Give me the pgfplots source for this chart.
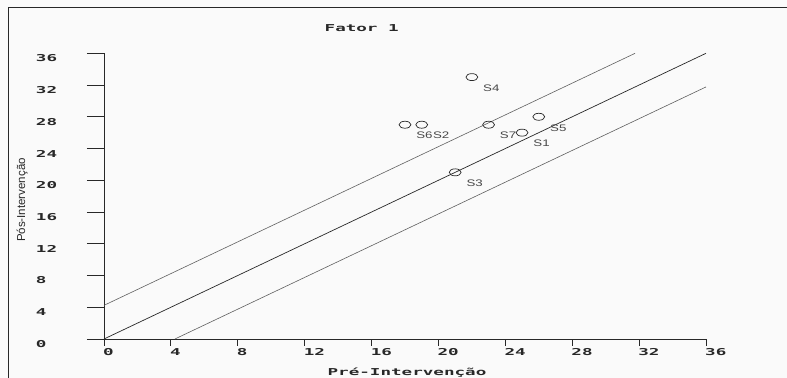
\documentclass[border=0pt]{standalone}
\usepackage{pgfplots}
\pgfplotsset{compat=1.18}
\usepackage{fontspec}
\setmainfont{Liberation Sans}
\newfontfamily\monob{DejaVu Sans Mono}[BoldFont={DejaVu Sans Mono Bold}]
\newcommand{\wide}[1]{\scalebox{1.85}[1]{\monob\bfseries\fontsize{9.5bp}{11bp}\selectfont #1}}
\definecolor{bg}{RGB}{250,250,250}
\definecolor{ink}{RGB}{40,40,40}
\begin{document}
\begin{tikzpicture}
\path[use as bounding box, fill=bg] (0bp,0bp) rectangle (787bp,378bp);
\draw[ink, line width=1bp] (8bp,0bp) -- (8bp,370bp) -- (787bp,370bp);
\node[ink] at (361.7bp,349.7bp) {\wide{Fator 1}};
\node[ink] at (407bp,5bp) {\wide{Pré-Intervenção}};
\node[ink, rotate=90] at (22bp,178bp) {\fontsize{11.5bp}{13bp}\selectfont Pós-Intervenção};
\begin{axis}[
  at={(104bp,39bp)}, anchor=origin,
  scale only axis, width=602bp, height=285.7bp,
  xmin=0, xmax=36, ymin=0, ymax=36,
  axis lines*=left,
  axis line style={ink, line width=0.9bp},
  tick align=outside,
  xtick={0,4,...,36}, ytick={0,4,...,36},
  xtick style={ink, line width=0.9bp, /pgfplots/major tick length=7bp},
  ytick style={ink, line width=0.9bp, /pgfplots/major tick length=17bp},
  xticklabel={\wide{\pgfmathprintnumber[assume math mode=true]{\tick}}},
  yticklabel={\wide{\pgfmathprintnumber[assume math mode=true]{\tick}}},
  xticklabel style={anchor=north west, inner sep=0pt, xshift=-1bp, yshift=-5bp, text=ink},
  yticklabel style={anchor=west, inner sep=0pt, xshift=-64bp, yshift=-5bp, text=ink},
  clip=false,
]
\addplot[gray!75!black, line width=0.6bp] coordinates {(0,4.24) (31.76,36)};
\addplot[ink, line width=0.7bp] coordinates {(0,0) (36,36)};
\addplot[gray!75!black, line width=0.6bp] coordinates {(4.24,0) (36,31.76)};
\addplot[only marks, mark=o, mark size=3.5bp,
  mark options={xscale=1.7, ink, line width=0.7bp},
  nodes near coords={\scalebox{1.4}[1]{\fontsize{9.5bp}{11bp}\selectfont\pgfplotspointmeta}},
  point meta=explicit symbolic,
  every node near coord/.style={anchor=west, inner sep=0pt, xshift=11bp, yshift=-11bp, text=ink!85!white},
] table[meta=label] {
x y label
25 26 S1
19 27 S2
21 21 S3
22 33 S4
26 28 S5
18 27 S6
23 27 S7
};
\end{axis}
\end{tikzpicture}
\end{document}
